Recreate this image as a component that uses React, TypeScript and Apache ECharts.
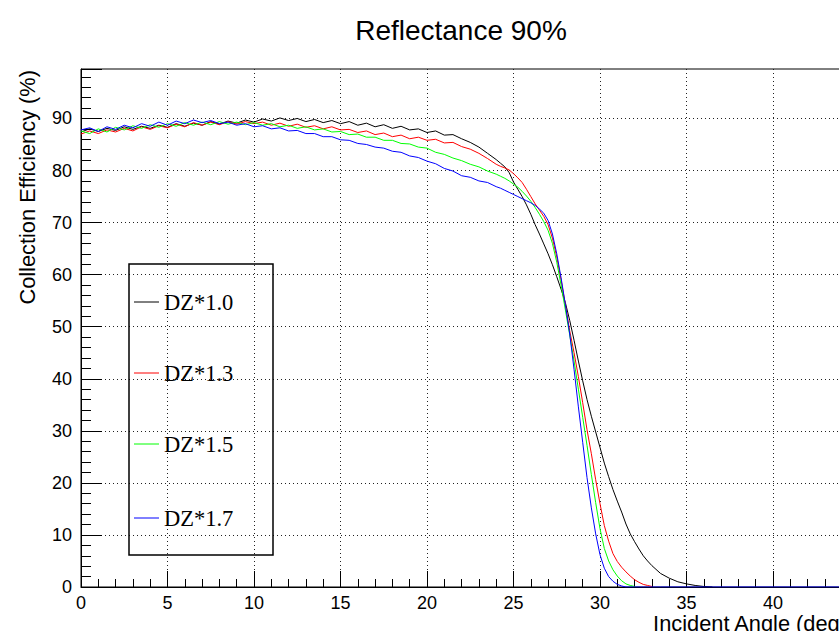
import React, { useEffect, useRef } from "react";
import * as echarts from "echarts";

const TITLE = "Reflectance 90%";
const X_TITLE = "Incident Angle (deg)";
const Y_TITLE = "Collection Efficiency (%)";
const SERIES_NAMES = ["DZ*1.0", "DZ*1.3", "DZ*1.5", "DZ*1.7"];
const SERIES_COLORS = ["#000000", "#ff0000", "#00ff00", "#0000ff"];

const angles = [
  0, 0.5, 1, 1.5, 2, 2.5, 3, 3.5, 4, 4.5, 5, 5.5, 6, 6.5, 7, 7.5, 8, 8.5, 9, 9.5,
  10, 10.5, 11, 11.5, 12, 12.5, 13, 13.5, 14, 14.5, 15, 15.5, 16, 16.5, 17, 17.5, 18, 18.5, 19, 19.5,
  20, 20.5, 21, 21.5, 22, 22.5, 23, 23.5, 24,
  24.25, 24.5, 24.75, 25, 25.25, 25.5, 25.75, 26, 26.25, 26.5, 26.75, 27, 27.25, 27.5, 27.75, 28,
  28.25, 28.5, 28.75, 29, 29.25, 29.5, 29.75, 30, 30.25, 30.5, 30.75, 31, 31.25, 31.5, 31.75, 32,
  32.25, 32.5, 32.75, 33,
  33.5, 34, 34.5, 35, 35.5, 36, 36.5, 45,
];

const dz10 = [
  87.4, 88.0, 87.5, 88.1, 87.7, 88.4, 87.9, 88.5, 88.1, 88.7, 88.3, 89.0, 88.5, 89.1, 88.7, 89.4, 88.9, 89.5, 89.1, 89.7,
  89.3, 89.9, 89.5, 90.1, 89.6, 90.0, 89.4, 89.8, 89.2, 89.6, 89.0, 89.4, 88.7, 89.1, 88.4, 88.8, 88.1, 88.5, 87.8, 88.0,
  87.3, 87.6, 86.8, 86.9, 86.1, 85.4, 84.5, 83.3, 82.1,
  81.4, 80.7, 79.6, 77.8, 76.4, 75.0, 73.4, 71.6, 69.6, 67.8, 65.9, 64.0, 61.9, 59.6, 57.2, 54.6,
  51.2, 47.4, 43.4, 39.6, 36.0, 32.8, 29.8, 26.8, 23.8, 21.2, 18.7, 16.5, 14.4, 12.1, 10.2, 8.7,
  7.3, 6.0, 5.0, 4.1,
  2.6, 1.7, 1.0, 0.6, 0.3, 0.1, 0, null,
];

const dz13 = [
  87.0, 87.6, 87.1, 87.8, 87.4, 88.1, 87.6, 88.4, 87.9, 88.6, 88.2, 88.9, 88.4, 89.2, 88.7, 89.3, 88.8, 89.4, 88.9, 89.4,
  89.0, 89.3, 88.7, 89.1, 88.5, 88.9, 88.3, 88.6, 88.0, 88.4, 87.8, 87.9, 87.3, 87.6, 86.9, 87.2, 86.5, 86.8, 86.1, 86.4,
  85.8, 86.0, 85.3, 85.4, 84.6, 84.1, 83.3, 82.3, 81.2,
  80.8, 80.5, 80.1, 79.4, 78.6, 77.7, 76.4, 75.0, 73.6, 72.4, 71.2, 69.6, 67.0, 63.4, 59.0, 54.2,
  49.2, 45.0, 40.4, 35.4, 30.2, 25.6, 20.6, 16.0, 11.8, 8.8, 6.4, 4.9, 3.8, 2.9, 2.1, 1.4,
  0.9, 0.5, 0.3, 0.1,
  null, null, null, null, null, null, null, null,
];

const dz15 = [
  87.6, 87.1, 88.0, 87.4, 88.3, 87.8, 88.6, 88.1, 88.8, 88.3, 89.0, 88.5, 89.2, 88.7, 89.3, 88.8, 89.4, 88.9, 89.3, 88.8,
  89.2, 88.7, 89.0, 88.4, 88.7, 88.1, 88.4, 87.8, 88.0, 87.4, 87.5, 86.9, 87.0, 86.4, 86.4, 85.8, 85.8, 85.2, 85.1, 84.5,
  84.3, 83.5, 83.1, 82.4, 81.9, 81.2, 80.7, 79.9, 79.3,
  78.9, 78.5, 78.0, 77.4, 76.8, 76.0, 75.1, 74.1, 72.9, 71.6, 70.2, 68.5, 66.0, 62.4, 58.0, 53.2,
  48.4, 43.4, 38.0, 32.6, 27.2, 21.6, 16.2, 11.2, 7.4, 5.0, 3.3, 2.1, 1.2, 0.6, 0.3, 0.1,
  null, null, null, null,
  null, null, null, null, null, null, null, null,
];

const dz17 = [
  87.8, 88.2, 87.5, 88.4, 87.9, 88.7, 88.2, 89.0, 88.5, 89.3, 88.7, 89.5, 89.0, 89.7, 89.2, 89.6, 89.0, 89.3, 88.7, 89.0,
  88.4, 88.6, 88.0, 88.2, 87.6, 87.7, 87.1, 87.1, 86.5, 86.5, 85.9, 85.8, 85.2, 85.0, 84.5, 84.3, 83.7, 83.5, 82.8, 82.5,
  81.8, 81.3, 80.4, 79.9, 79.0, 78.7, 78.0, 77.7, 76.9,
  76.6, 76.2, 75.8, 75.4, 75.0, 74.6, 74.2, 73.8, 73.3, 72.6, 71.8, 70.4, 67.8, 64.0, 59.4, 54.2,
  48.6, 41.8, 34.6, 27.8, 21.0, 15.2, 10.2, 6.2, 3.6, 2.0, 1.1, 0.5, 0.2, 0, 0, 0,
  0, 0, 0, 0,
  0, 0, 0, 0, 0, 0, 0, 0,
];

const SERIES_VALUES = [dz10, dz13, dz15, dz17];
const X_MIN = 0;
const X_MAX = 45;
const Y_MIN = 0;
const Y_MAX = 99.5;

const SANS = "'Liberation Sans', Arial, Helvetica, sans-serif";
const SERIF = "'Liberation Serif', 'Times New Roman', serif";

export default function App() {
  const ref = useRef<HTMLDivElement>(null);

  useEffect(() => {
    if (!ref.current) return;
    const chart = echarts.init(ref.current, undefined, { renderer: "svg" });

    const legendTop = 264;
    const legendLeft = 129;
    const itemYs = [302, 373, 444, 518];
    const legendGraphics: any[] = [
      {
        type: "rect",
        shape: { x: legendLeft, y: legendTop, width: 144, height: 291 },
        style: { fill: "none", stroke: "#000", lineWidth: 1.5 },
        z: 10,
      },
    ];
    SERIES_NAMES.forEach((name, i) => {
      legendGraphics.push({
        type: "line",
        shape: { x1: 134, y1: itemYs[i], x2: 159, y2: itemYs[i] },
        style: { stroke: SERIES_COLORS[i], lineWidth: 1 },
        z: 10,
      });
      legendGraphics.push({
        type: "text",
        x: 164,
        y: itemYs[i],
        style: {
          text: name,
          fontFamily: SERIF,
          fontSize: 22.5,
          fill: "#000",
          textAlign: "left",
          textVerticalAlign: "middle",
        },
        z: 10,
      });
    });

    const axisCommon = {
      axisLine: { show: true, onZero: false, lineStyle: { color: "#000", width: 1 } },
      splitLine: {
        show: true,
        showMaxLine: false,
        showMinLine: false,
        lineStyle: { color: "#222", width: 1, type: [1, 3] },
      },
      axisLabel: { color: "#000", fontFamily: SANS, fontSize: 18 },
    };

    const option: any = {
      animation: false,
      backgroundColor: "#fff",
      title: {
        text: TITLE,
        left: 456,
        top: 11,
        textAlign: "center",
        textStyle: { fontFamily: SANS, fontSize: 28, fontWeight: "normal", color: "#000" },
      },
      grid: {
        left: 81,
        right: 10.5,
        top: 69,
        bottom: 44,
        show: true,
        borderColor: "#000",
        borderWidth: 1,
        backgroundColor: "transparent",
      },
      xAxis: {
        type: "value",
        min: X_MIN,
        max: X_MAX,
        interval: 5,
        ...axisCommon,
        axisTick: { show: true, inside: true, length: 16, lineStyle: { color: "#000", width: 1 } },
        minorTick: { show: true, splitNumber: 5, length: 8, lineStyle: { color: "#000", width: 1 } },
        axisLabel: { ...axisCommon.axisLabel, margin: 7, showMaxLabel: false },
      },
      yAxis: {
        type: "value",
        min: Y_MIN,
        max: Y_MAX,
        interval: 10,
        ...axisCommon,
        axisTick: { show: true, inside: true, length: 21, lineStyle: { color: "#000", width: 1 } },
        minorTick: { show: true, splitNumber: 5, length: 10, lineStyle: { color: "#000", width: 1 } },
        axisLabel: { ...axisCommon.axisLabel, margin: 9, showMaxLabel: false },
      },
      graphic: [
        {
          type: "text",
          x: 27,
          y: 70,
          rotation: Math.PI / 2,
          style: {
            text: Y_TITLE,
            fontFamily: SANS,
            fontSize: 21.8,
            fill: "#000",
            textAlign: "right",
            textVerticalAlign: "middle",
          },
        },
        {
          type: "text",
          x: 847,
          y: 623,
          style: {
            text: X_TITLE,
            fontFamily: SANS,
            fontSize: 21.8,
            fill: "#000",
            textAlign: "right",
            textVerticalAlign: "middle",
          },
        },
        ...legendGraphics,
      ],
      series: SERIES_NAMES.map((name, i) => ({
        name,
        type: "line",
        showSymbol: false,
        symbol: "none",
        connectNulls: false,
        lineStyle: { color: SERIES_COLORS[i], width: 1 },
        itemStyle: { color: SERIES_COLORS[i] },
        data: angles.map((a, j) => [a, SERIES_VALUES[i][j]]),
        z: 5,
      })),
    };

    chart.setOption(option);
    return () => chart.dispose();
  }, []);

  return (
    <div
      ref={ref}
      style={{ position: "fixed", left: 0, top: 0, width: 870, height: 631, background: "#fff" }}
    />
  );
}
